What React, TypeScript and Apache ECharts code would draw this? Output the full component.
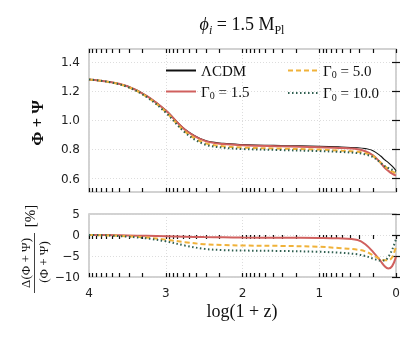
import React, { useEffect, useRef } from "react";
import * as echarts from "echarts";

// log(1+z) sample positions
const xVals = [4, 3.75, 3.5, 3.25, 3, 2.75, 2.5, 2.25, 2, 1.5, 1, 0.75, 0.5, 0.4, 0.3, 0.2, 0.15, 0.1, 0.05, 0];
// Phi + Psi
const lcdm = [1.281, 1.265, 1.235, 1.17, 1.07, 0.94, 0.865, 0.842, 0.834, 0.827, 0.822, 0.818, 0.812, 0.806, 0.792, 0.755, 0.73, 0.71, 0.685, 0.655];
const g15 = [1.281, 1.265, 1.234, 1.168, 1.067, 0.936, 0.861, 0.837, 0.829, 0.822, 0.816, 0.811, 0.802, 0.788, 0.76, 0.708, 0.676, 0.653, 0.634, 0.621];
const g50 = [1.281, 1.264, 1.231, 1.163, 1.058, 0.924, 0.846, 0.822, 0.813, 0.806, 0.799, 0.793, 0.784, 0.775, 0.754, 0.711, 0.686, 0.667, 0.649, 0.637];
const g100 = [1.281, 1.264, 1.23, 1.161, 1.054, 0.917, 0.836, 0.812, 0.803, 0.796, 0.789, 0.784, 0.775, 0.766, 0.748, 0.709, 0.686, 0.673, 0.661, 0.649];
// relative difference [%]
const d15 = [0, 0, -0.1, -0.2, -0.3, -0.4, -0.5, -0.55, -0.6, -0.65, -0.7, -0.8, -1.2, -2.2, -4.0, -6.2, -7.4, -8.0, -7.4, -5.2];
const d50 = [0, -0.1, -0.3, -0.6, -1.1, -1.7, -2.2, -2.4, -2.5, -2.6, -2.8, -3.1, -3.5, -3.9, -4.8, -5.8, -6.0, -6.0, -5.3, -2.7];
const d100 = [0, -0.1, -0.4, -0.8, -1.5, -2.5, -3.3, -3.6, -3.7, -3.8, -4.0, -4.2, -4.6, -5.0, -5.6, -6.1, -6.1, -5.2, -3.5, -1.0];

const seriesNames = ["ΛCDM", "Γ0 = 1.5", "Γ0 = 5.0", "Γ0 = 10.0"];
const topTicks = [0.6, 0.8, 1.0, 1.2, 1.4];
const botTicks = [-10, -5, 0, 5];
const xMajor = [0, 1, 2, 3, 4];
const xMinor = [0, 1, 2, 3].flatMap((d) => [2, 3, 4, 5, 6, 7, 8, 9].map((k) => d + Math.log10(k)));

const colors = { lcdm: "#111111", g15: "#d0605e", g50: "#f0b23a", g100: "#2f5f50" };

const zip = (ys: number[]) => xVals.map((x, i) => [x, ys[i]]);

const GRID_L = 89, GRID_R = 19;
const FONT_SERIF = "Liberation Serif";
const FONT_SANS = "DejaVu Sans";

export default function App() {
  const ref = useRef<HTMLDivElement>(null);
  useEffect(() => {
    if (!ref.current) return;
    const chart = echarts.init(ref.current, null, { renderer: "svg" });
    const splitLine = { show: true, lineStyle: { color: "#d4d4d4", type: [1, 2], width: 0.8 } };
    const tickStyle = { show: true, inside: true, length: 4, lineStyle: { color: "#111", width: 1.2 } };
    const mainX = (gi: number, labels: boolean) => ({
      gridIndex: gi, type: "value", min: 0, max: 4, interval: 1, inverse: true,
      axisLine: { show: false }, axisTick: { show: false }, splitLine,
      axisLabel: { show: labels, fontFamily: FONT_SANS, fontSize: 12, color: "#222", margin: 10 },
    });
    const tickX = (gi: number, pos: string) => ({
      gridIndex: gi, type: "value", min: 0, max: 4, inverse: true, position: pos,
      axisLine: { show: false }, splitLine: { show: false },
      axisLabel: { show: false },
      axisTick: { ...tickStyle, customValues: [...xMajor, ...xMinor] },
    });
    const yAx = (gi: number, min: number, max: number, ticks: number[], right: boolean) => ({
      gridIndex: gi, type: "value", min, max, position: right ? "right" : "left",
      axisLine: { show: false },
      splitLine: right ? { show: false } : splitLine,
      axisTick: { ...tickStyle, customValues: ticks },
      axisLabel: {
        show: !right, customValues: ticks, fontFamily: FONT_SANS, fontSize: 12, color: "#222", margin: 9,
        formatter: (v: number) => (gi === 0 ? v.toFixed(1) : String(v).replace("-", "\u2212")),
      },
    });
    const line = (name: string, data: number[], color: string, width: number, type: any, xi: number, yi: number) => ({
      name, type: "line", xAxisIndex: xi, yAxisIndex: yi, data: zip(data), showSymbol: false, symbol: "none",
      smooth: 0.35,
      lineStyle: { color, width, type }, itemStyle: { color },
    });
    const legendFmt = (name: string) =>
      name.startsWith("Γ") ? `{n|Γ}{s|0}{n| = ${name.split("= ")[1]}}` : `{n|${name}}`;
    const legendRich = {
      n: { fontFamily: FONT_SERIF, fontSize: 15, lineHeight: 18, color: "#111" },
      s: { fontFamily: FONT_SERIF, fontSize: 10, lineHeight: 12, verticalAlign: "bottom", color: "#111" },
    };
    const legendBase = {
      orient: "vertical", itemWidth: 30, itemHeight: 12, itemGap: 6, top: 58,
      formatter: legendFmt, textStyle: { rich: legendRich }, selectedMode: false,
      itemStyle: { opacity: 0 },
    };
    const option = {
      animation: false,
      grid: [
        { left: GRID_L, right: GRID_R, top: 49, height: 143, show: true, borderColor: "#c4c4c4", borderWidth: 1.5 },
        { left: GRID_L, right: GRID_R, top: 214, height: 63, show: true, borderColor: "#c4c4c4", borderWidth: 1.5 },
      ],
      xAxis: [mainX(0, false), tickX(0, "top"), tickX(0, "bottom"), mainX(1, true), tickX(1, "top"), tickX(1, "bottom")],
      yAxis: [
        yAx(0, 0.508, 1.49, topTicks, false), yAx(0, 0.508, 1.49, topTicks, true),
        yAx(1, -10, 5, botTicks, false), yAx(1, -10, 5, botTicks, true),
      ],
      legend: [
        { ...legendBase, left: 160, data: [seriesNames[0], seriesNames[1]] },
        { ...legendBase, left: 282, data: [seriesNames[2], seriesNames[3]] },
      ],
      series: [
        line(seriesNames[0], lcdm, colors.lcdm, 1.1, "solid", 0, 0),
        line(seriesNames[1], g15, colors.g15, 2, "solid", 0, 0),
        line(seriesNames[2], g50, colors.g50, 2, [5, 3], 0, 0),
        line(seriesNames[3], g100, colors.g100, 2, [1.5, 2.5], 0, 0),
        line(seriesNames[1], d15, colors.g15, 2, "solid", 3, 2),
        line(seriesNames[2], d50, colors.g50, 2, [5, 3], 3, 2),
        line(seriesNames[3], d100, colors.g100, 2, [1.5, 2.5], 3, 2),
      ],
      graphic: [
        {
          type: "text", x: 242, y: 24,
          style: {
            text: "{i|ϕ}{si|i}{n| = 1.5 M}{s|Pl}", align: "center", verticalAlign: "middle",
            rich: {
              i: { fontFamily: FONT_SERIF, fontSize: 18, fontStyle: "italic", lineHeight: 24, fill: "#111" },
              n: { fontFamily: FONT_SERIF, fontSize: 18, lineHeight: 24, fill: "#111" },
              s: { fontFamily: FONT_SERIF, fontSize: 12, lineHeight: 14, verticalAlign: "bottom", fill: "#111" },
              si: { fontFamily: FONT_SERIF, fontSize: 12, fontStyle: "italic", lineHeight: 14, verticalAlign: "bottom", fill: "#111" },
            },
          },
        },
        {
          type: "text", x: 37, y: 123, rotation: Math.PI / 2,
          style: { text: "Φ + Ψ", font: `bold 17px '${FONT_SERIF}'`, fill: "#111", align: "center", verticalAlign: "middle" },
        },
        {
          type: "text", x: 25, y: 263, rotation: Math.PI / 2,
          style: { text: "Δ(Φ + Ψ)", font: `13px '${FONT_SERIF}'`, fill: "#111", align: "center", verticalAlign: "middle" },
        },
        { type: "line", shape: { x1: 34.5, y1: 233, x2: 34.5, y2: 293 }, style: { stroke: "#111", lineWidth: 0.8 } },
        {
          type: "text", x: 43, y: 262, rotation: Math.PI / 2,
          style: { text: "(Φ + Ψ)", font: `13px '${FONT_SERIF}'`, fill: "#111", align: "center", verticalAlign: "middle" },
        },
        {
          type: "text", x: 30, y: 216, rotation: Math.PI / 2,
          style: { text: "[%]", font: `15px '${FONT_SERIF}'`, fill: "#111", align: "center", verticalAlign: "middle" },
        },
        {
          type: "text", x: 242, y: 311,
          style: { text: "log(1 + z)", font: `18px '${FONT_SERIF}'`, fill: "#111", align: "center", verticalAlign: "middle" },
        },
      ],
    };
    chart.setOption(option as any);
    return () => chart.dispose();
  }, []);
  return <div ref={ref} style={{ position: "fixed", left: 0, top: 0, width: 415, height: 338 }} />;
}
